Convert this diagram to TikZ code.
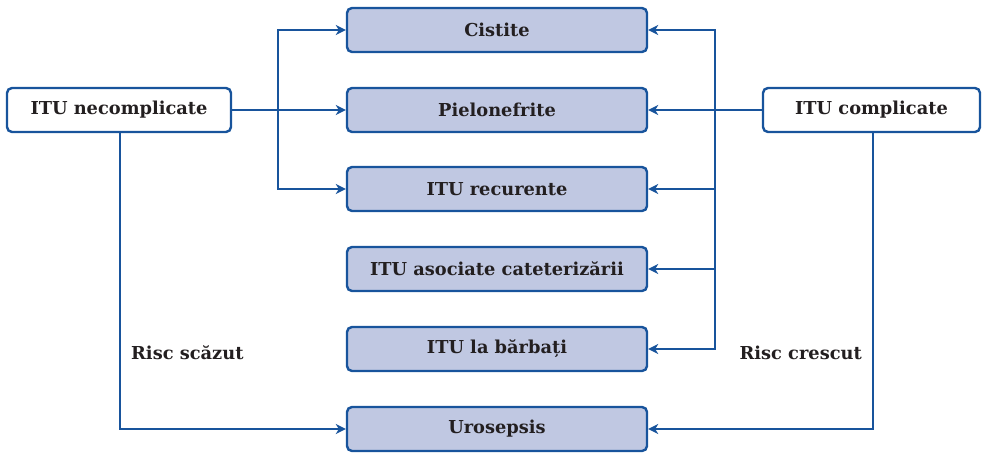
\documentclass[tikz,border=0pt]{standalone}
\usepackage{fontspec}
\setmainfont{DejaVu Serif}
\usetikzlibrary{arrows.meta}
\definecolor{lineblue}{RGB}{24,84,156}
\definecolor{boxfill}{RGB}{192,200,226}
\definecolor{txt}{RGB}{35,31,32}
\tikzset{
  midbox/.style={draw=lineblue, line width=2.4pt, fill=boxfill, rounded corners=5pt, minimum width=300pt, minimum height=44pt, inner sep=0pt, text=txt, font=\bfseries\fontsize{17.8}{20}\selectfont},
  sidebox/.style={draw=lineblue, line width=2.4pt, fill=white, rounded corners=5pt, minimum height=44pt, inner sep=0pt, text=txt, font=\bfseries\fontsize{17.8}{20}\selectfont},
  conn/.style={draw=lineblue, line width=1.8pt, -{Stealth[length=10pt,width=10pt,inset=3pt]}},
  lbl/.style={text=txt, font=\bfseries\fontsize{17.8}{20}\selectfont, inner sep=0pt}
}
\begin{document}
\begin{tikzpicture}[x=1pt,y=-1pt]
\useasboundingbox (0,0) rectangle (987,455);
\node[sidebox, minimum width=224pt] (L) at (119,110) {ITU necomplicate};
\node[sidebox, minimum width=217pt] (R) at (871.5,110) {ITU complicate};
\node[midbox] (c) at (497,30) {Cistite};
\node[midbox] (p) at (497,110) {Pielonefrite};
\node[midbox] (r) at (497,189) {ITU recurente};
\node[midbox] (a) at (497,269) {ITU asociate cateterizării};
\node[midbox] (b) at (497,349) {ITU la bărbați};
\node[midbox] (u) at (497,429) {Urosepsis};
\coordinate (lb) at (278,110);
\coordinate (rb) at (715,110);
% left
\draw[conn] (L.east) -- (p.west);
\draw[conn] (lb) |- (c.west);
\draw[conn] (lb) |- (r.west);
\draw[conn] (L.south -| 120,0) |- (u.west);
% right
\draw[conn] (R.west) -- (p.east);
\draw[conn] (rb) |- (c.east);
\draw[conn] (rb) |- (r.east);
\draw[conn] (rb) |- (a.east);
\draw[conn] (rb) |- (b.east);
\draw[conn] (R.south -| 873,0) |- (u.east);
\node[lbl, anchor=west] (ls) at (131,353) {Risc scăzut};
\node[lbl, anchor=east] (rs) at (862,353) {Risc crescut};
\end{tikzpicture}
\end{document}
